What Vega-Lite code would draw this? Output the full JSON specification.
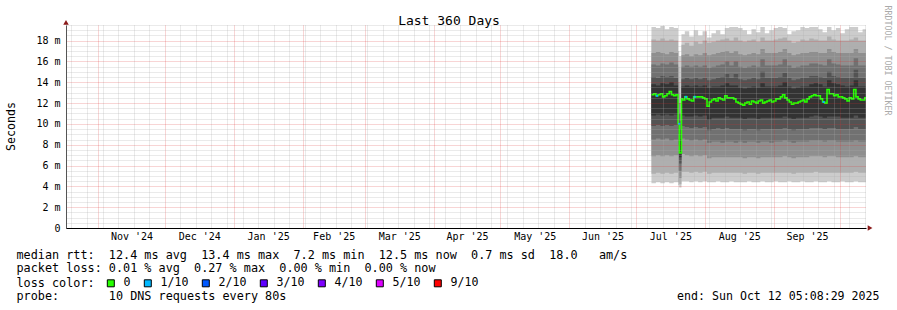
{
 "$schema": "https://vega.github.io/schema/vega-lite/v6.json",
 "width": 800, "height": 203,
 "autosize": {"type": "none"},
 "padding": {"left": 66, "top": 25, "right": 31, "bottom": 82},
 "background": "white",
 "config": {"view": {"stroke": null}, "font": "DejaVu Sans Mono",
  "axis": {"titleFontWeight": "normal", "titleColor": "#000", "labelColor": "#000", "titleFont": "DejaVu Sans Mono", "labelFont": "DejaVu Sans Mono"}},
 "datasets": {
  "median": [
   {"d":"2025-07-08T00:00:00","m":12.8,"loss":"0"},{"d":"2025-07-09T00:00:00","m":12.9,"loss":"0"},{"d":"2025-07-10T00:00:00","m":12.7,"loss":"1/10"},{"d":"2025-07-11T00:00:00","m":12.8,"loss":"0"},
   {"d":"2025-07-12T00:00:00","m":12.9,"loss":"0"},{"d":"2025-07-13T00:00:00","m":12.6,"loss":"0"},{"d":"2025-07-14T00:00:00","m":12.7,"loss":"0"},{"d":"2025-07-15T00:00:00","m":12.9,"loss":"0"},
   {"d":"2025-07-16T00:00:00","m":13.1,"loss":"0"},{"d":"2025-07-17T00:00:00","m":12.8,"loss":"0"},{"d":"2025-07-18T00:00:00","m":12.7,"loss":"0"},{"d":"2025-07-19T00:00:00","m":12.8,"loss":"0"},
   {"d":"2025-07-20T00:00:00","m":10.0,"loss":"1/10"},{"d":"2025-07-20T12:00:00","m":7.2,"loss":"0"},{"d":"2025-07-21T12:00:00","m":12.4,"loss":"0"},{"d":"2025-07-22T00:00:00","m":12.3,"loss":"0"},
   {"d":"2025-07-23T00:00:00","m":12.6,"loss":"1/10"},{"d":"2025-07-24T00:00:00","m":12.4,"loss":"0"},{"d":"2025-07-25T00:00:00","m":12.3,"loss":"0"},{"d":"2025-07-26T00:00:00","m":12.2,"loss":"0"},
   {"d":"2025-07-27T00:00:00","m":12.6,"loss":"1/10"},{"d":"2025-07-28T00:00:00","m":12.6,"loss":"0"},{"d":"2025-07-29T00:00:00","m":12.6,"loss":"0"},{"d":"2025-07-30T00:00:00","m":12.6,"loss":"0"},
   {"d":"2025-07-31T00:00:00","m":12.5,"loss":"0"},{"d":"2025-08-01T00:00:00","m":12.4,"loss":"0"},{"d":"2025-08-02T00:00:00","m":11.7,"loss":"0"},{"d":"2025-08-03T00:00:00","m":12.1,"loss":"0"},
   {"d":"2025-08-04T00:00:00","m":12.3,"loss":"0"},{"d":"2025-08-05T00:00:00","m":12.4,"loss":"0"},{"d":"2025-08-06T00:00:00","m":12.2,"loss":"0"},{"d":"2025-08-07T00:00:00","m":12.5,"loss":"0"},
   {"d":"2025-08-08T00:00:00","m":12.4,"loss":"0"},{"d":"2025-08-09T00:00:00","m":12.3,"loss":"0"},{"d":"2025-08-10T00:00:00","m":12.7,"loss":"0"},{"d":"2025-08-11T00:00:00","m":12.5,"loss":"0"},
   {"d":"2025-08-12T00:00:00","m":12.5,"loss":"0"},{"d":"2025-08-13T00:00:00","m":12.5,"loss":"0"},{"d":"2025-08-14T00:00:00","m":12.4,"loss":"0"},{"d":"2025-08-15T00:00:00","m":12.1,"loss":"0"},
   {"d":"2025-08-16T00:00:00","m":12.0,"loss":"0"},{"d":"2025-08-17T00:00:00","m":11.9,"loss":"0"},{"d":"2025-08-18T00:00:00","m":11.8,"loss":"0"},{"d":"2025-08-19T00:00:00","m":12.0,"loss":"0"},
   {"d":"2025-08-20T00:00:00","m":12.1,"loss":"0"},{"d":"2025-08-21T00:00:00","m":11.9,"loss":"0"},{"d":"2025-08-22T00:00:00","m":12.2,"loss":"0"},{"d":"2025-08-23T00:00:00","m":12.1,"loss":"0"},
   {"d":"2025-08-24T00:00:00","m":12.0,"loss":"0"},{"d":"2025-08-25T00:00:00","m":12.2,"loss":"0"},{"d":"2025-08-26T00:00:00","m":12.3,"loss":"0"},{"d":"2025-08-27T00:00:00","m":12.0,"loss":"0"},
   {"d":"2025-08-28T00:00:00","m":12.1,"loss":"0"},{"d":"2025-08-29T00:00:00","m":12.2,"loss":"0"},{"d":"2025-08-30T00:00:00","m":12.3,"loss":"0"},{"d":"2025-08-31T00:00:00","m":12.1,"loss":"0"},
   {"d":"2025-09-01T00:00:00","m":12.2,"loss":"0"},{"d":"2025-09-02T00:00:00","m":12.4,"loss":"0"},{"d":"2025-09-03T00:00:00","m":12.4,"loss":"0"},{"d":"2025-09-04T00:00:00","m":12.6,"loss":"0"},
   {"d":"2025-09-05T00:00:00","m":12.8,"loss":"0"},{"d":"2025-09-06T00:00:00","m":12.5,"loss":"0"},{"d":"2025-09-07T00:00:00","m":12.3,"loss":"0"},{"d":"2025-09-08T00:00:00","m":12.1,"loss":"0"},
   {"d":"2025-09-09T00:00:00","m":11.9,"loss":"0"},{"d":"2025-09-10T00:00:00","m":12.0,"loss":"0"},{"d":"2025-09-11T00:00:00","m":12.0,"loss":"0"},{"d":"2025-09-12T00:00:00","m":12.1,"loss":"0"},
   {"d":"2025-09-13T00:00:00","m":12.2,"loss":"0"},{"d":"2025-09-14T00:00:00","m":12.3,"loss":"0"},{"d":"2025-09-15T00:00:00","m":12.1,"loss":"0"},{"d":"2025-09-16T00:00:00","m":12.4,"loss":"0"},
   {"d":"2025-09-17T00:00:00","m":12.6,"loss":"0"},{"d":"2025-09-18T00:00:00","m":12.7,"loss":"0"},{"d":"2025-09-19T00:00:00","m":12.8,"loss":"0"},{"d":"2025-09-20T00:00:00","m":12.7,"loss":"0"},
   {"d":"2025-09-21T00:00:00","m":12.7,"loss":"0"},{"d":"2025-09-22T00:00:00","m":12.4,"loss":"0"},{"d":"2025-09-23T00:00:00","m":12.1,"loss":"1/10"},{"d":"2025-09-24T00:00:00","m":12.0,"loss":"0"},
   {"d":"2025-09-25T00:00:00","m":13.3,"loss":"0"},{"d":"2025-09-26T00:00:00","m":12.9,"loss":"0"},{"d":"2025-09-27T00:00:00","m":12.9,"loss":"0"},{"d":"2025-09-28T00:00:00","m":12.7,"loss":"0"},
   {"d":"2025-09-29T00:00:00","m":12.8,"loss":"0"},{"d":"2025-09-30T00:00:00","m":12.6,"loss":"0"},{"d":"2025-10-01T00:00:00","m":12.6,"loss":"0"},{"d":"2025-10-02T00:00:00","m":12.5,"loss":"0"},
   {"d":"2025-10-03T00:00:00","m":12.4,"loss":"0"},{"d":"2025-10-04T00:00:00","m":12.2,"loss":"0"},{"d":"2025-10-05T00:00:00","m":12.5,"loss":"0"},{"d":"2025-10-06T00:00:00","m":12.4,"loss":"0"},
   {"d":"2025-10-07T00:00:00","m":13.3,"loss":"0"},{"d":"2025-10-08T00:00:00","m":12.6,"loss":"0"},{"d":"2025-10-09T00:00:00","m":12.4,"loss":"0"},{"d":"2025-10-10T00:00:00","m":12.3,"loss":"0"},
   {"d":"2025-10-11T00:00:00","m":12.3,"loss":"0"},{"d":"2025-10-12T00:00:00","m":12.5,"loss":"0"},{"d":"2025-10-12T13:00:00","m":12.5,"loss":"0"}
  ]
 },
 "data": {"values": [
  {"d":"2025-07-08T00:00:00","b1":4.3,"b2":5.2,"b3":6.9,"b4":8.5,"b5":9.8,"b6":10.8,"m":12.8,"t6":13.8,"t5":14.5,"t4":15.7,"t3":16.8,"t2":18.1,"t1":19.3},
  {"d":"2025-07-10T00:00:00","b1":4.4,"b2":5.3,"b3":7.0,"b4":8.6,"b5":9.9,"b6":10.9,"m":12.7,"t6":13.7,"t5":14.4,"t4":15.6,"t3":16.9,"t2":18.0,"t1":19.2},
  {"d":"2025-07-12T00:00:00","b1":4.3,"b2":5.2,"b3":6.9,"b4":8.5,"b5":9.8,"b6":10.8,"m":12.9,"t6":13.9,"t5":14.6,"t4":15.8,"t3":16.8,"t2":18.2,"t1":19.4},
  {"d":"2025-07-14T00:00:00","b1":4.4,"b2":5.3,"b3":7.0,"b4":8.6,"b5":9.9,"b6":10.9,"m":12.7,"t6":13.8,"t5":14.5,"t4":15.7,"t3":16.7,"t2":18.0,"t1":19.1},
  {"d":"2025-07-16T00:00:00","b1":4.3,"b2":5.2,"b3":6.9,"b4":8.4,"b5":9.8,"b6":10.8,"m":13.1,"t6":14.0,"t5":14.6,"t4":15.9,"t3":16.9,"t2":18.1,"t1":19.3},
  {"d":"2025-07-18T00:00:00","b1":4.4,"b2":5.3,"b3":7.0,"b4":8.5,"b5":9.9,"b6":10.9,"m":12.7,"t6":13.7,"t5":14.4,"t4":15.7,"t3":16.8,"t2":18.0,"t1":19.2},
  {"d":"2025-07-20T00:00:00","b1":4.1,"b2":4.4,"b3":5.5,"b4":7.0,"b5":8.0,"b6":9.0,"m":10.0,"t6":11.0,"t5":12.0,"t4":13.0,"t3":14.0,"t2":15.5,"t1":17.0},
  {"d":"2025-07-20T12:00:00","b1":3.9,"b2":4.2,"b3":4.8,"b4":5.5,"b5":6.2,"b6":6.8,"m":7.2,"t6":8.5,"t5":9.5,"t4":10.3,"t3":11.0,"t2":12.0,"t1":16.5},
  {"d":"2025-07-21T12:00:00","b1":4.5,"b2":5.4,"b3":7.1,"b4":8.6,"b5":9.8,"b6":10.8,"m":12.4,"t6":13.6,"t5":14.3,"t4":15.5,"t3":16.6,"t2":17.6,"t1":18.6},
  {"d":"2025-07-23T00:00:00","b1":4.5,"b2":5.4,"b3":7.0,"b4":8.5,"b5":9.7,"b6":10.7,"m":12.6,"t6":13.7,"t5":14.4,"t4":15.6,"t3":16.7,"t2":17.8,"t1":18.9},
  {"d":"2025-07-25T00:00:00","b1":4.4,"b2":5.3,"b3":6.9,"b4":8.4,"b5":9.6,"b6":10.7,"m":12.3,"t6":13.6,"t5":14.3,"t4":15.5,"t3":16.5,"t2":17.5,"t1":18.4},
  {"d":"2025-07-27T00:00:00","b1":4.5,"b2":5.4,"b3":7.0,"b4":8.5,"b5":9.7,"b6":10.8,"m":12.6,"t6":13.7,"t5":14.4,"t4":15.6,"t3":16.7,"t2":17.9,"t1":19.0},
  {"d":"2025-07-29T00:00:00","b1":4.4,"b2":5.3,"b3":6.9,"b4":8.4,"b5":9.6,"b6":10.7,"m":12.6,"t6":13.6,"t5":14.3,"t4":15.5,"t3":16.6,"t2":17.7,"t1":18.5},
  {"d":"2025-07-31T00:00:00","b1":4.5,"b2":5.4,"b3":7.0,"b4":8.5,"b5":9.7,"b6":10.8,"m":12.5,"t6":13.7,"t5":14.4,"t4":15.6,"t3":16.8,"t2":18.0,"t1":18.9},
  {"d":"2025-08-02T00:00:00","b1":4.4,"b2":5.2,"b3":6.7,"b4":8.2,"b5":9.4,"b6":10.4,"m":11.7,"t6":13.5,"t5":14.2,"t4":15.4,"t3":16.6,"t2":17.8,"t1":18.3},
  {"d":"2025-08-04T00:00:00","b1":4.4,"b2":5.3,"b3":6.8,"b4":8.3,"b5":9.5,"b6":10.6,"m":12.3,"t6":13.6,"t5":14.3,"t4":15.5,"t3":16.7,"t2":17.9,"t1":18.7},
  {"d":"2025-08-06T00:00:00","b1":4.5,"b2":5.3,"b3":6.8,"b4":8.3,"b5":9.6,"b6":10.6,"m":12.2,"t6":13.6,"t5":14.4,"t4":15.6,"t3":16.8,"t2":18.0,"t1":19.0},
  {"d":"2025-08-08T00:00:00","b1":4.4,"b2":5.3,"b3":6.8,"b4":8.2,"b5":9.5,"b6":10.6,"m":12.4,"t6":13.7,"t5":14.5,"t4":15.7,"t3":16.9,"t2":18.1,"t1":18.6},
  {"d":"2025-08-10T00:00:00","b1":4.4,"b2":5.3,"b3":6.8,"b4":8.3,"b5":9.6,"b6":10.7,"m":12.7,"t6":13.9,"t5":14.8,"t4":16.0,"t3":17.0,"t2":18.2,"t1":19.2},
  {"d":"2025-08-12T00:00:00","b1":4.5,"b2":5.3,"b3":6.8,"b4":8.3,"b5":9.5,"b6":10.6,"m":12.5,"t6":13.7,"t5":14.4,"t4":15.6,"t3":16.8,"t2":18.0,"t1":19.3},
  {"d":"2025-08-14T00:00:00","b1":4.4,"b2":5.3,"b3":6.8,"b4":8.2,"b5":9.5,"b6":10.6,"m":12.4,"t6":13.7,"t5":14.8,"t4":16.0,"t3":17.0,"t2":18.3,"t1":19.3},
  {"d":"2025-08-16T00:00:00","b1":4.4,"b2":5.3,"b3":6.8,"b4":8.3,"b5":9.5,"b6":10.6,"m":12.0,"t6":13.5,"t5":14.3,"t4":15.5,"t3":16.7,"t2":18.0,"t1":19.2},
  {"d":"2025-08-18T00:00:00","b1":4.4,"b2":5.2,"b3":6.7,"b4":8.2,"b5":9.4,"b6":10.5,"m":11.8,"t6":13.4,"t5":14.2,"t4":15.4,"t3":16.6,"t2":17.9,"t1":19.0},
  {"d":"2025-08-20T00:00:00","b1":4.5,"b2":5.3,"b3":6.8,"b4":8.3,"b5":9.5,"b6":10.6,"m":12.1,"t6":13.5,"t5":14.3,"t4":15.5,"t3":16.7,"t2":18.0,"t1":18.6},
  {"d":"2025-08-22T00:00:00","b1":4.4,"b2":5.3,"b3":6.8,"b4":8.3,"b5":9.5,"b6":10.6,"m":12.2,"t6":13.6,"t5":14.4,"t4":15.6,"t3":16.8,"t2":18.1,"t1":19.1},
  {"d":"2025-08-24T00:00:00","b1":4.4,"b2":5.2,"b3":6.7,"b4":8.2,"b5":9.4,"b6":10.5,"m":12.0,"t6":13.5,"t5":14.3,"t4":15.5,"t3":16.7,"t2":17.9,"t1":18.8},
  {"d":"2025-08-26T00:00:00","b1":4.5,"b2":5.3,"b3":6.8,"b4":8.3,"b5":9.5,"b6":10.6,"m":12.3,"t6":13.9,"t5":15.0,"t4":16.2,"t3":17.2,"t2":18.3,"t1":19.3},
  {"d":"2025-08-28T00:00:00","b1":4.4,"b2":5.3,"b3":6.8,"b4":8.3,"b5":9.5,"b6":10.6,"m":12.1,"t6":13.6,"t5":14.4,"t4":15.6,"t3":16.8,"t2":18.0,"t1":18.7},
  {"d":"2025-08-30T00:00:00","b1":4.4,"b2":5.3,"b3":6.8,"b4":8.2,"b5":9.5,"b6":10.6,"m":12.3,"t6":13.6,"t5":14.4,"t4":15.6,"t3":16.8,"t2":18.0,"t1":19.0},
  {"d":"2025-09-01T00:00:00","b1":4.5,"b2":5.3,"b3":6.8,"b4":8.3,"b5":9.5,"b6":10.6,"m":12.2,"t6":13.6,"t5":14.4,"t4":15.6,"t3":16.8,"t2":18.1,"t1":19.2},
  {"d":"2025-09-03T00:00:00","b1":4.4,"b2":5.3,"b3":6.8,"b4":8.3,"b5":9.5,"b6":10.6,"m":12.4,"t6":13.7,"t5":14.5,"t4":15.7,"t3":16.9,"t2":18.2,"t1":19.3},
  {"d":"2025-09-05T00:00:00","b1":4.4,"b2":5.3,"b3":6.9,"b4":8.4,"b5":9.6,"b6":10.7,"m":12.8,"t6":14.0,"t5":14.9,"t4":16.2,"t3":17.2,"t2":18.3,"t1":19.2},
  {"d":"2025-09-07T00:00:00","b1":4.5,"b2":5.3,"b3":6.8,"b4":8.3,"b5":9.5,"b6":10.6,"m":12.3,"t6":13.6,"t5":14.4,"t4":15.6,"t3":16.8,"t2":18.0,"t1":18.6},
  {"d":"2025-09-09T00:00:00","b1":4.4,"b2":5.2,"b3":6.7,"b4":8.2,"b5":9.4,"b6":10.5,"m":11.9,"t6":13.4,"t5":14.2,"t4":15.4,"t3":16.6,"t2":17.8,"t1":18.9},
  {"d":"2025-09-11T00:00:00","b1":4.4,"b2":5.3,"b3":6.8,"b4":8.3,"b5":9.5,"b6":10.6,"m":12.0,"t6":13.5,"t5":14.3,"t4":15.5,"t3":16.7,"t2":17.9,"t1":19.0},
  {"d":"2025-09-13T00:00:00","b1":4.5,"b2":5.3,"b3":6.8,"b4":8.3,"b5":9.5,"b6":10.6,"m":12.2,"t6":13.6,"t5":14.4,"t4":15.6,"t3":16.8,"t2":18.1,"t1":19.3},
  {"d":"2025-09-15T00:00:00","b1":4.4,"b2":5.3,"b3":6.8,"b4":8.3,"b5":9.5,"b6":10.6,"m":12.1,"t6":13.6,"t5":14.4,"t4":15.6,"t3":16.8,"t2":18.0,"t1":19.2},
  {"d":"2025-09-17T00:00:00","b1":4.4,"b2":5.3,"b3":6.9,"b4":8.4,"b5":9.6,"b6":10.7,"m":12.6,"t6":13.8,"t5":14.6,"t4":15.8,"t3":16.9,"t2":18.2,"t1":19.3},
  {"d":"2025-09-19T00:00:00","b1":4.5,"b2":5.4,"b3":6.9,"b4":8.4,"b5":9.6,"b6":10.8,"m":12.8,"t6":13.9,"t5":14.6,"t4":15.8,"t3":16.9,"t2":18.1,"t1":19.3},
  {"d":"2025-09-21T00:00:00","b1":4.4,"b2":5.3,"b3":6.9,"b4":8.4,"b5":9.6,"b6":10.7,"m":12.7,"t6":13.8,"t5":14.5,"t4":15.7,"t3":16.8,"t2":18.0,"t1":19.1},
  {"d":"2025-09-23T00:00:00","b1":4.4,"b2":5.3,"b3":6.8,"b4":8.3,"b5":9.5,"b6":10.6,"m":12.1,"t6":13.6,"t5":14.4,"t4":15.6,"t3":16.8,"t2":18.0,"t1":18.8},
  {"d":"2025-09-25T00:00:00","b1":4.5,"b2":5.3,"b3":6.9,"b4":8.4,"b5":9.6,"b6":10.7,"m":13.3,"t6":14.2,"t5":15.0,"t4":16.2,"t3":17.2,"t2":18.4,"t1":19.3},
  {"d":"2025-09-27T00:00:00","b1":4.4,"b2":5.3,"b3":6.9,"b4":8.4,"b5":9.6,"b6":10.7,"m":12.9,"t6":13.9,"t5":14.6,"t4":15.8,"t3":16.9,"t2":18.1,"t1":19.0},
  {"d":"2025-09-29T00:00:00","b1":4.4,"b2":5.3,"b3":6.8,"b4":8.3,"b5":9.5,"b6":10.7,"m":12.8,"t6":13.8,"t5":14.5,"t4":15.7,"t3":16.8,"t2":18.0,"t1":19.2},
  {"d":"2025-10-01T00:00:00","b1":4.5,"b2":5.3,"b3":6.8,"b4":8.3,"b5":9.5,"b6":10.6,"m":12.6,"t6":13.7,"t5":14.4,"t4":15.6,"t3":16.8,"t2":18.0,"t1":18.7},
  {"d":"2025-10-03T00:00:00","b1":4.4,"b2":5.3,"b3":6.8,"b4":8.3,"b5":9.5,"b6":10.6,"m":12.4,"t6":13.6,"t5":14.4,"t4":15.6,"t3":16.8,"t2":18.0,"t1":19.1},
  {"d":"2025-10-05T00:00:00","b1":4.4,"b2":5.3,"b3":6.8,"b4":8.3,"b5":9.5,"b6":10.6,"m":12.5,"t6":13.7,"t5":14.4,"t4":15.6,"t3":16.8,"t2":18.1,"t1":19.3},
  {"d":"2025-10-07T00:00:00","b1":4.5,"b2":5.4,"b3":6.9,"b4":8.4,"b5":9.7,"b6":10.8,"m":13.3,"t6":14.2,"t5":15.2,"t4":16.3,"t3":17.2,"t2":18.3,"t1":19.3},
  {"d":"2025-10-09T00:00:00","b1":4.4,"b2":5.3,"b3":6.8,"b4":8.3,"b5":9.5,"b6":10.6,"m":12.4,"t6":13.6,"t5":14.4,"t4":15.6,"t3":16.8,"t2":18.0,"t1":18.8},
  {"d":"2025-10-11T00:00:00","b1":4.4,"b2":5.3,"b3":6.8,"b4":8.3,"b5":9.5,"b6":10.6,"m":12.3,"t6":13.6,"t5":14.4,"t4":15.6,"t3":16.8,"t2":18.0,"t1":19.1},
  {"d":"2025-10-12T13:00:00","b1":4.4,"b2":5.3,"b3":6.8,"b4":8.3,"b5":9.5,"b6":10.6,"m":12.5,"t6":13.6,"t5":14.4,"t4":15.6,"t3":16.8,"t2":18.0,"t1":19.1}
 ]},
 "layer": [
  {"mark": {"type": "area", "interpolate": "step-after", "color": "#cccccc"},
   "encoding": {"x": {"field": "d", "type": "temporal", "axis": null, "scale": {"domain": [{"year":2024,"month":10,"date":17,"hours":13},{"year":2025,"month":10,"date":12,"hours":13}], "nice": false}},
    "y": {"field": "b1", "type": "quantitative", "axis": null, "scale": {"domain": [0, 19.5], "nice": false, "zero": false}}, "y2": {"field": "t1"}}},
  {"mark": {"type": "area", "interpolate": "step-after", "color": "#afafaf"},
   "encoding": {"x": {"field": "d", "type": "temporal", "axis": null}, "y": {"field": "b2", "type": "quantitative", "axis": null}, "y2": {"field": "t2"}}},
  {"mark": {"type": "area", "interpolate": "step-after", "color": "#8f8f8f"},
   "encoding": {"x": {"field": "d", "type": "temporal", "axis": null}, "y": {"field": "b3", "type": "quantitative", "axis": null}, "y2": {"field": "t3"}}},
  {"mark": {"type": "area", "interpolate": "step-after", "color": "#717171"},
   "encoding": {"x": {"field": "d", "type": "temporal", "axis": null}, "y": {"field": "b4", "type": "quantitative", "axis": null}, "y2": {"field": "t4"}}},
  {"mark": {"type": "area", "interpolate": "step-after", "color": "#535353"},
   "encoding": {"x": {"field": "d", "type": "temporal", "axis": null}, "y": {"field": "b5", "type": "quantitative", "axis": null}, "y2": {"field": "t5"}}},
  {"mark": {"type": "area", "interpolate": "step-after", "color": "#333333"},
   "encoding": {"x": {"field": "d", "type": "temporal", "axis": null}, "y": {"field": "b6", "type": "quantitative", "axis": null}, "y2": {"field": "t6"}}},
  {"data": {"name": "median"},
   "mark": {"type": "line", "interpolate": "step-after", "color": "#26ff00", "strokeWidth": 1.6},
   "encoding": {"x": {"field": "d", "type": "temporal", "axis": null}, "y": {"field": "m", "type": "quantitative", "axis": null}}},
  {"data": {"name": "median"},
   "transform": [{"filter": {"field": "loss", "oneOf": ["1/10"]}}],
   "mark": {"type": "point", "shape": "M0,-0.5H1.1V0.5H0Z", "filled": true, "size": 16, "opacity": 1},
   "encoding": {"x": {"field": "d", "type": "temporal", "axis": null}, "y": {"field": "m", "type": "quantitative", "axis": null},
    "color": {"field": "loss", "type": "nominal",
     "scale": {"domain": ["0", "1/10", "2/10", "3/10", "4/10", "5/10", "9/10"], "range": ["#26ff00", "#00b8ff", "#0059ff", "#5e00ff", "#7e00ff", "#dd00ff", "#ff0000"]},
     "legend": {"orient": "none", "legendX": 39, "legendY": 252.5, "direction": "horizontal", "gridAlign": "none", "title": null, "symbolType": "square", "symbolSize": 49, "symbolStrokeColor": "#000", "symbolStrokeWidth": 1, "symbolOpacity": 1, "labelFont": "DejaVu Sans Mono", "labelFontSize": 11.6, "labelColor": "#000", "labelOffset": 7, "columnPadding": 11, "padding": 0}}}},
  {"mark": {"type": "point", "opacity": 0},
   "encoding": {
    "x": {"field": "d", "type": "temporal", "axis": {"orient": "bottom", "zindex": 1,
      "values": [{"year":2024,"month":10,"date":20},{"year":2024,"month":10,"date":27},{"year":2024,"month":11,"date":3},{"year":2024,"month":11,"date":10},{"year":2024,"month":11,"date":17},{"year":2024,"month":11,"date":24},{"year":2024,"month":12,"date":8},{"year":2024,"month":12,"date":15},{"year":2024,"month":12,"date":22},{"year":2024,"month":12,"date":29},{"year":2025,"month":1,"date":5},{"year":2025,"month":1,"date":12},{"year":2025,"month":1,"date":19},{"year":2025,"month":1,"date":26},{"year":2025,"month":2,"date":2},{"year":2025,"month":2,"date":9},{"year":2025,"month":2,"date":16},{"year":2025,"month":2,"date":23},{"year":2025,"month":3,"date":2},{"year":2025,"month":3,"date":9},{"year":2025,"month":3,"date":16},{"year":2025,"month":3,"date":23},{"year":2025,"month":3,"date":30},{"year":2025,"month":4,"date":6},{"year":2025,"month":4,"date":13},{"year":2025,"month":4,"date":20},{"year":2025,"month":4,"date":27},{"year":2025,"month":5,"date":4},{"year":2025,"month":5,"date":11},{"year":2025,"month":5,"date":18},{"year":2025,"month":5,"date":25},{"year":2025,"month":6,"date":8},{"year":2025,"month":6,"date":15},{"year":2025,"month":6,"date":22},{"year":2025,"month":6,"date":29},{"year":2025,"month":7,"date":6},{"year":2025,"month":7,"date":13},{"year":2025,"month":7,"date":20},{"year":2025,"month":7,"date":27},{"year":2025,"month":8,"date":3},{"year":2025,"month":8,"date":10},{"year":2025,"month":8,"date":17},{"year":2025,"month":8,"date":24},{"year":2025,"month":8,"date":31},{"year":2025,"month":9,"date":7},{"year":2025,"month":9,"date":14},{"year":2025,"month":9,"date":21},{"year":2025,"month":9,"date":28},{"year":2025,"month":10,"date":5},{"year":2025,"month":10,"date":12}],
      "grid": true, "gridColor": "#ababab", "gridOpacity": 0.5, "gridDash": [1, 1], "gridWidth": 1, "labels": false, "ticks": false, "domain": false,
      "title": ["median rtt:\u00a0\u00a012.4 ms avg\u00a0\u00a013.4 ms max\u00a0\u00a07.2 ms min\u00a0\u00a012.5 ms now\u00a0\u00a00.7 ms sd\u00a0\u00a018.0\u00a0\u00a0\u00a0am/s", "packet loss: 0.01 % avg\u00a0\u00a00.27 % max\u00a0\u00a00.00 % min\u00a0\u00a00.00 % now"],
      "titleX": -50, "titleY": 30.3, "titleAlign": "left", "titleAngle": 0, "titleBaseline": "alphabetic", "titleFontSize": 11.8, "titleLineHeight": 13.2}},
    "y": {"field": "m", "type": "quantitative", "axis": {"orient": "left", "zindex": 1,
      "values": [0.5,1,1.5,2.5,3,3.5,4.5,5,5.5,6.5,7,7.5,8.5,9,9.5,10.5,11,11.5,12.5,13,13.5,14.5,15,15.5,16.5,17,17.5,18.5,19,19.5],
      "grid": true, "gridColor": "#ababab", "gridOpacity": 0.5, "gridDash": [1, 1], "gridWidth": 1, "labels": false, "ticks": false, "domain": false,
      "title": "Seconds", "titleX": -55, "titleY": 101, "titleAngle": 270, "titleAlign": "center", "titleBaseline": "middle", "titleFontSize": 11.6}}}},
  {"mark": {"type": "point", "opacity": 0},
   "encoding": {
    "x": {"field": "d", "type": "temporal", "axis": {"orient": "top", "zindex": 1,
      "values": [{"year":2024,"month":11,"date":1},{"year":2024,"month":12,"date":1},{"year":2025,"month":1,"date":1},{"year":2025,"month":2,"date":1},{"year":2025,"month":3,"date":1},{"year":2025,"month":4,"date":1},{"year":2025,"month":5,"date":1},{"year":2025,"month":6,"date":1},{"year":2025,"month":7,"date":1},{"year":2025,"month":8,"date":1},{"year":2025,"month":9,"date":1},{"year":2025,"month":10,"date":1}],
      "grid": true, "gridColor": "#de3030", "gridOpacity": 0.4, "gridDash": [1, 1], "gridWidth": 1, "labels": false, "ticks": false, "domain": false,
      "title": "Last 360 Days", "titleX": 382.5, "titleY": -1, "titleAlign": "center", "titleAngle": 0, "titleBaseline": "alphabetic", "titleFontSize": 13}},
    "y": {"field": "m", "type": "quantitative", "axis": {"orient": "left", "zindex": 1,
      "values": [0, 2, 4, 6, 8, 10, 12, 14, 16, 18],
      "grid": true, "gridColor": "#de3030", "gridOpacity": 0.4, "gridDash": [1, 1], "gridWidth": 1,
      "labels": true, "labelExpr": "datum.value == 0 ? '0\u00a0\u00a0' : datum.value + ' m'", "labelFontSize": 10, "labelPadding": 6, "labelBaseline": "middle",
      "ticks": false, "domain": true, "domainColor": "#555555", "domainWidth": 1,
      "title": "loss color:", "titleX": -50, "titleY": 261.3, "titleAlign": "left", "titleAngle": 0, "titleBaseline": "alphabetic", "titleFontSize": 11.8}}}},
  {"mark": {"type": "point", "opacity": 0},
   "encoding": {
    "x": {"field": "d", "type": "temporal", "axis": {"orient": "bottom", "zindex": 2,
      "values": [{"year":2024,"month":11,"date":16},{"year":2024,"month":12,"date":16,"hours":12},{"year":2025,"month":1,"date":16,"hours":12},{"year":2025,"month":2,"date":15},{"year":2025,"month":3,"date":16,"hours":12},{"year":2025,"month":4,"date":16},{"year":2025,"month":5,"date":16,"hours":12},{"year":2025,"month":6,"date":16},{"year":2025,"month":7,"date":16,"hours":12},{"year":2025,"month":8,"date":16,"hours":12},{"year":2025,"month":9,"date":16}],
      "format": "%b '%y", "labelFontSize": 10, "labelPadding": 3, "labelBaseline": "top", "labelAlign": "center", "labelFlush": false, "labelOverlap": false,
      "grid": false, "ticks": false, "domain": true, "domainColor": "#000", "domainWidth": 1,
      "title": "end: Sun Oct 12 05:08:29 2025", "titleX": 813, "titleY": 71.7, "titleAlign": "right", "titleAngle": 0, "titleBaseline": "alphabetic", "titleFontSize": 11.6}},
    "y": {"field": "m", "type": "quantitative", "axis": {"orient": "right", "zindex": 2, "labels": false, "ticks": false, "domain": false, "grid": false,
      "title": "RRDTOOL / TOBI OETIKER", "titleX": 20, "titleY": 35, "titleAngle": 90, "titleAlign": "center", "titleBaseline": "middle", "titleFontSize": 8.3, "titleColor": "#aaaaaa"}}}},
  {"mark": {"type": "point", "opacity": 0},
   "encoding": {
    "x": {"field": "d", "type": "temporal", "axis": {"orient": "bottom", "zindex": 2, "labels": false, "ticks": false, "domain": false, "grid": false,
      "title": "probe:\u00a0\u00a0\u00a0\u00a0\u00a0\u00a0\u00a010 DNS requests every 80s", "titleX": -50, "titleY": 71.7, "titleAlign": "left", "titleAngle": 0, "titleBaseline": "alphabetic", "titleFontSize": 11.8}},
    "y": {"field": "m", "type": "quantitative", "axis": null}}},
  {"data": {"values": [{"d": "2024-10-17T13:00:00", "v": 19.75}]},
   "mark": {"type": "point", "shape": "triangle-up", "filled": true, "color": "#8b1a1a", "size": 30, "opacity": 1},
   "encoding": {"x": {"field": "d", "type": "temporal", "axis": null}, "y": {"field": "v", "type": "quantitative", "axis": null}}},
  {"data": {"values": [{"d": "2025-10-14T09:00:00", "v": 0}]},
   "mark": {"type": "point", "shape": "triangle-right", "filled": true, "color": "#8b1a1a", "size": 30, "opacity": 1},
   "encoding": {"x": {"field": "d", "type": "temporal", "axis": null}, "y": {"field": "v", "type": "quantitative", "axis": null}}}
 ],
 "resolve": {"axis": {"x": "independent", "y": "independent"}}
}
